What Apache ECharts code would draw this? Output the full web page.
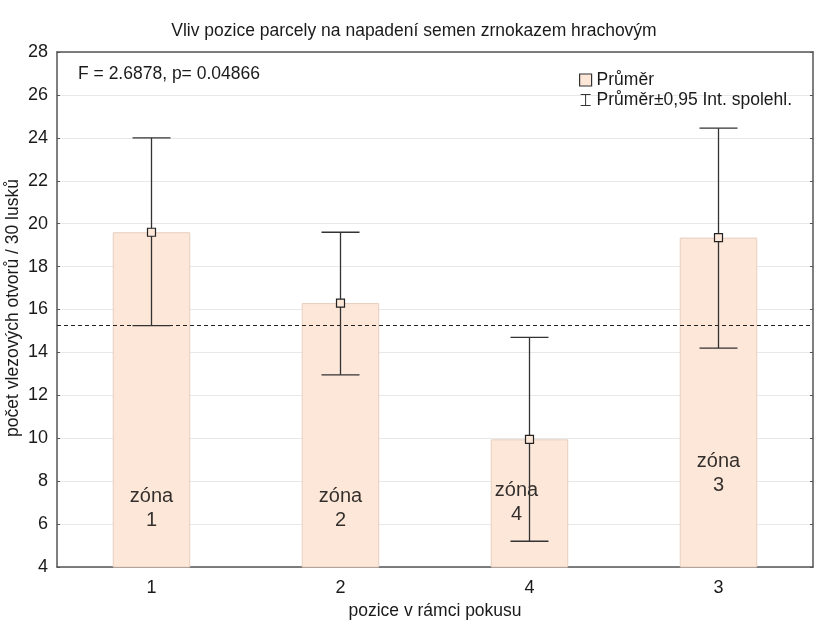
<!DOCTYPE html>
<html>
<head>
<meta charset="utf-8">
<script src="https://cdn.jsdelivr.net/npm/echarts@6/dist/echarts.min.js"></script>
<style>
  html, body { margin: 0; padding: 0; background: #fff; }
  #chart { width: 826px; height: 635px; }
</style>
</head>
<body>
<div id="chart"></div>
<script>
// pozice v rámci pokusu (order as plotted)
const positions = ['1', '2', '4', '3']
const zoneNames = ['zóna\n1', 'zóna\n2', 'zóna\n4', 'zóna\n3']
const means = [19.6, 16.3, 9.95, 19.35]
const ciLow = [15.25, 12.95, 5.2, 14.2]
const ciHigh = [24.0, 19.6, 14.7, 24.45]
const grandMean = 15.25
const zoneLabelY = [6.75, 6.75, 7.0, 8.35]
const yTicks = { min: 4, max: 28, interval: 2 }

const font = 'Liberation Sans, Arial, sans-serif'
const axisColor = '#555'
const textColor = '#1a1a1a'
const barColor = '#fce7d9'
const fs = 17.5

const chart = echarts.init(document.getElementById('chart'))

chart.setOption({
  animation: false,
  textStyle: { fontFamily: font },
  title: {
    text: 'Vliv pozice parcely na napadení semen zrnokazem hrachovým',
    left: 409,
    textAlign: 'center',
    top: 17,
    textStyle: { fontSize: fs, fontWeight: 'normal', color: textColor, fontFamily: font },
  },
  legend: {
    orient: 'vertical',
    left: 574,
    top: 66,
    itemGap: 2,
    itemWidth: 12,
    itemHeight: 12,
    textStyle: { fontSize: fs, color: textColor, fontFamily: font },
    data: [
      {
        name: 'Průměr',
        icon: 'path://M1,1 L11,1 L11,11 L1,11 Z',
        itemStyle: { color: barColor, borderColor: '#333', borderWidth: 1.2 },
      },
      {
        name: 'Průměr±0,95 Int. spolehl.',
        icon: 'path://M0,0 L10,0 L10,1 L5.5,1 L5.5,11 L10,11 L10,12 L0,12 L0,11 L4.5,11 L4.5,1 L0,1 Z',
        itemStyle: { color: '#333', borderWidth: 0 },
      },
    ],
  },
  graphic: [
    {
      type: 'text',
      left: 78,
      top: 65,
      style: { text: 'F = 2.6878, p= 0.04866', fontSize: fs, fill: textColor, fontFamily: font },
    },
    {
      type: 'text',
      x: 13,
      y: 308,
      rotation: Math.PI / 2,
      style: {
        text: 'počet vlezových otvorů / 30 lusků',
        fontSize: fs,
        fill: textColor,
        fontFamily: font,
        align: 'center',
        verticalAlign: 'middle',
      },
    },
  ],
  grid: { left: 57, right: 13, top: 52, bottom: 68 },
  xAxis: [
    {
      type: 'category',
      data: positions,
      name: 'pozice v rámci pokusu',
      nameLocation: 'middle',
      nameGap: 32,
      nameTextStyle: { fontSize: fs, color: textColor },
      axisLine: { lineStyle: { color: axisColor, width: 1.5 } },
      axisTick: { inside: true, alignWithLabel: true, length: 4, lineStyle: { color: axisColor } },
      axisLabel: { fontSize: 18, color: textColor, margin: 12 },
    },
    {
      type: 'category',
      data: positions,
      position: 'top',
      axisLine: { lineStyle: { color: axisColor, width: 1.5 } },
      axisTick: { inside: true, alignWithLabel: true, length: 4, lineStyle: { color: axisColor } },
      axisLabel: { show: false },
    },
  ],
  yAxis: [
    {
      type: 'value',
      min: yTicks.min,
      max: yTicks.max,
      interval: yTicks.interval,
      axisLine: { show: true, lineStyle: { color: axisColor, width: 1.5 } },
      axisTick: { show: true, inside: true, length: 3, lineStyle: { color: axisColor } },
      axisLabel: { fontSize: 18, color: textColor, margin: 9 },
      splitLine: { lineStyle: { color: '#e8e8e8' } },
    },
    {
      type: 'value',
      position: 'right',
      min: yTicks.min,
      max: yTicks.max,
      interval: yTicks.interval,
      axisLine: { show: true, lineStyle: { color: axisColor, width: 1.5 } },
      axisTick: { show: true, inside: true, length: 3, lineStyle: { color: axisColor } },
      axisLabel: { show: false },
      splitLine: { show: false },
    },
  ],
  series: [
    {
      name: 'Průměr',
      type: 'bar',
      data: means,
      barWidth: '41%',
      itemStyle: { color: barColor, borderColor: '#e6cfc0', borderWidth: 1 },
      markLine: {
        silent: true,
        symbol: 'none',
        label: { show: false },
        lineStyle: { color: '#222', type: [4, 3], width: 1.2 },
        data: [{ yAxis: grandMean }],
      },
    },
    {
      name: 'zones',
      type: 'scatter',
      symbolSize: 0,
      silent: true,
      data: zoneLabelY.map((v, i) => ({
        value: [i, v],
        label: { offset: i === 2 ? [-13, 0] : [0, 0] },
      })),
      label: {
        show: true,
        position: 'inside',
        formatter: p => zoneNames[p.dataIndex],
        fontSize: 20,
        lineHeight: 24,
        color: '#000',
        fontFamily: font,
      },
      z: 5,
    },
    {
      name: 'Průměr±0,95 Int. spolehl.',
      type: 'custom',
      data: positions.map((p, i) => [i, ciLow[i], ciHigh[i]]),
      renderItem: (params, api) => {
        const lo = api.coord([api.value(0), api.value(1)])
        const hi = api.coord([api.value(0), api.value(2)])
        const half = 19
        const style = { stroke: '#333', lineWidth: 1.3 }
        return {
          type: 'group',
          children: [
            { type: 'line', shape: { x1: lo[0], y1: lo[1], x2: hi[0], y2: hi[1] }, style },
            { type: 'line', shape: { x1: lo[0] - half, y1: lo[1], x2: lo[0] + half, y2: lo[1] }, style },
            { type: 'line', shape: { x1: hi[0] - half, y1: hi[1], x2: hi[0] + half, y2: hi[1] }, style },
          ],
        }
      },
      z: 6,
    },
    {
      name: 'means',
      type: 'scatter',
      data: means.map((v, i) => [i, v]),
      symbol: 'rect',
      symbolSize: 8,
      itemStyle: { color: barColor, borderColor: '#222', borderWidth: 1.2, opacity: 1 },
      z: 7,
    },
  ],
})
</script>
</body>
</html>
